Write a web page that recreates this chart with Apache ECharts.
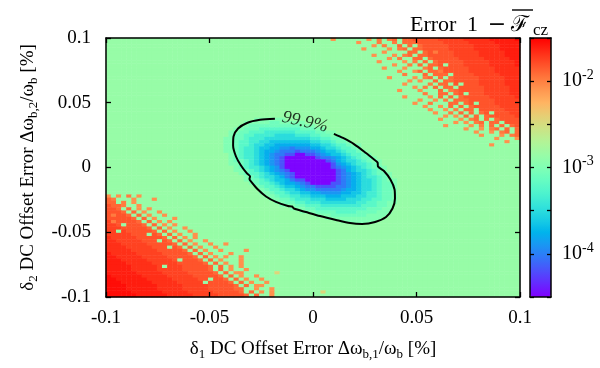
<!DOCTYPE html>
<html>
<head>
<meta charset="utf-8">
<script src="https://cdn.jsdelivr.net/npm/echarts@6/dist/echarts.min.js"></script>
<style>
html,body{margin:0;padding:0;background:#fff;}
#chart{width:600px;height:368px;}
</style>
</head>
<body>
<div id="chart"></div>
<script>
// Scan of the two DC offset errors, 81 x 81 points over [-0.1, 0.1] %.
const FONT = 'Liberation Serif';
const axisTicks = [-0.1, -0.05, 0, 0.05, 0.1];
const scanPoints = 81;
const colorbarRange = [-4.5, -1.5];          // log10 of the error
const colorbarDecades = [-4, -3, -2];

// Cell codes and the log10 error each code stands for.
const levelCodes = ['.', 'a', 'b', 'c', 'd', 'e', 'f', 'g', 'h', 'i', 'j', 'k',
                    'o', 'p', 'y', 'R', 'S', 'T', 'U', 'V', 'W'];
const levelLog10 = [-2.86, -3.00, -3.10, -3.22, -3.36, -3.50, -3.65, -3.78, -3.90, -4.02, -4.18, -4.48,
                    -2.08, -1.98, -2.45, -1.90, -1.82, -1.75, -1.68, -1.61, -1.55];

// Run-length coded rows, top row (delta2 = +0.1) first; "12." = twelve '.' cells.
const errorRows = [
"44.o6.o.p.pR.2R5S5T5U5VW",
"49.o3.p2.p.3R5S5T5U5V",
"52.o.p2.R.R.R5S5T5U4V",
"50.o4.o.pR.2R5S5T5U4V",
"54.o4.2R.RSp3S5T5U3V",
"52.o3.o.pR.2R5S5T5U3V",
"55.o.p2.2R.R5S5T5U2V",
"53.o4.o.p.R.R5S5T5UV",
"56.o2.p.R.2RS.3S5T5UV",
"54.o3.o3.pR.R5S5T5U",
"57.o2.oR.2Rp5S5T5U",
"58.p3.R.3R.4S5T4U",
"55.o4.o.pR.R.R5S5T3U",
"59.o.o2.R.2R5S5T3U",
"58.o4.p.2R.S.3S5T3U",
"60.o.p.R.2R.5S5T2U",
"57.o3.o3.R.pR5S5T2U",
"62.p2.2R.RS.3S5T2U",
"58.o4.o.R.R.R5S5TU",
"61.o2.o.p.3R5S5T",
"60.o2.p3.2R.RS.3S5T",
"62.o2.o.R.R.R5S4T",
"63.o2.o.p.2R.5S3T",
"64.o2.p.R.R.RS.3S2T",
"66.o.o.R.R.R5ST",
"29.6a30.o3.o.pR.R.R4S",
"27.5a2b5a29.o.o.pR.2R.3S",
"26.2a10b3a25.o4.o.p.R.R.RS",
"25.2a3b8c3b2a27.o2.o.pR.R.R",
"24.2a2b3c6d4c2b2a27.o2.o.pR.R",
"24.a2b2c4d4e3d2c2b2a27.o3.o.pR",
"23.2a2bc3d9e2d2c2ba29.o3.o",
"23.2ab2c2d2e8f2e2dc2ba30.o2.",
"23.2ab2cd2e2f7g2f2ed2cb2a25.o5.",
"23.2abc2de2f2g2hi3h2gf2ed2cba31.",
"23.2abc2def2gh3ij3ihg2fed2cba30.",
"24.abc2defgh2i2j2k2jihg2fed2cba29.",
"24.abc2defghij6kj2ihgfedc2ba28.",
"24.a2bcdefghij8kjigf2edcb2a27.",
"24.2abcdefghij9kjhgfe2dcba27.",
"25.abc2defghj9kjihgfedc2ba26.",
"25.2abcdefghij9kjigf2edcba26.",
"26.ab2cdefghij8kjihgfedc2ba25.",
"27.abcd2efgij8kjihgfe2dcba25.",
"27.a2bcde2fgi2j6kjihgf2edcb2a24.",
"28.ab2cdef2ghij4k2jihgf2edc2ba24.",
"29.ab2cde2fgh2i4j2ihgf2edc2ba24.",
"30.ab2cd2efg2h5ih2gf2edc2ba24.",
"30.2ab2cd2e2f2g4h2g2fe2dc2ba24.",
"o.o.p.o24.2ab2c2d2e3f3g3f2e2dc2ba24.",
"Rp3.o3.o22.2a2bc3d3e4f3e2d2c2ba24.",
"2R.p.o27.2a2b2c3d7e2d2c2b2a24.",
"S2Rp2.o27.3a2b3c8d3c2ba25.",
"2SR.R.o.o27.3a2b10c3b2a25.",
"3SR.R.o2.o27.3a4b4c4b3a25.",
"Sp2SR.R.o2.o29.3a7b4a26.",
"5SR.R.o3.o29.11a27.",
"Tp4SR.R.o.o33.7a28.",
"2TS.3SR.R.o.o67.",
"3T5SR.R.o2.o65.",
"2T.T5SR.R.o2.o64.",
"5T3S.SR.R.o2.o63.",
"U5T5SR.R.o.o63.",
"2U5T3S.SR.R.o2.o61.",
"3U5T5SR.R.o2.o2.o57.",
"4U5T3S.SR.R.o2.o59.",
"5U5T5SR.R.o2.o4.o53.",
"V5U5T5SR.R.o3.o56.",
"2V5U5T5SR.R.o.o2.o54.",
"3V5U5TS.3SR.R.o3.o54.",
"4V5U5T5SR.R.o2.o54.",
"5V5UT.3T5SR.R.o.o54.",
"5V5U5T5SR.R.o2.o53.",
"6V5U5T5SR.R.2o6.y47.",
"W6V5U5T5SR.R.o2.o51.",
"2W6V5U5T2S.2SR.R.o2.o50.",
"3W6V5U5T.4SR.R.o2.o49.",
"4W6V5U5T5SR.R.2o50.",
"4W6V5U5T5S2R2.o2.o48.",
"5W6V5U5T5SR.R.o.o9.y38.",
"6W6V5U5T5SR.R2.o48."
];

// 99.9 % fidelity contour (delta1, delta2 in %), open at the label.
const contourD1 = [-0.0184,-0.0256,-0.0319,-0.0362,-0.0384,-0.0386,-0.0372,-0.0348,-0.0319,-0.0304,-0.0307,-0.0295,
  -0.0266,-0.0227,-0.0179,-0.0121,-0.0101,-0.0092,-0.0034,0.0034,0.0111,0.0179,0.0237,0.0300,0.0353,0.0384,
  0.0396,0.0394,0.0374,0.0343,0.0314,0.0312,0.0295,0.0256,0.0198,0.0145,0.0101];
const contourD2 = [0.0376,0.0368,0.0344,0.0301,0.0239,0.0170,0.0085,0.0015,-0.0046,-0.0069,-0.0089,-0.0116,
  -0.0170,-0.0224,-0.0266,-0.0297,-0.0301,-0.0317,-0.0344,-0.0375,-0.0405,-0.0429,-0.0436,-0.0421,-0.0382,-0.0317,
  -0.0239,-0.0170,-0.0093,-0.0027,0.0008,0.0039,0.0062,0.0112,0.0181,0.0228,0.0260];
const contourLabel = { text: '99.9%', d1: -0.0039, d2: 0.0351 };

// Rainbow palette from 10^-4.5 (violet) to 10^-1.5 (red).
const palette = ['#8000ff','#6628fe','#4d4ffc','#3374f8','#1a96f3','#00b4ec','#1acee3','#33e3da','#4df3ce',
  '#66fcc2','#80ffb4','#99fca6','#b3f396','#cce385','#e6ce74','#ffb462','#ff964f','#ff743b','#ff4f28','#ff2814','#ff0000'];

function expandRow(rle) {
  let s = '';
  rle.replace(/(\d*)(\D)/g, (m, n, c) => { s += c.repeat(n ? +n : 1); return m; });
  while (s.length < scanPoints) s += '.';
  return s.slice(0, scanPoints);
}

const cells = [];
errorRows.forEach((rle, r) => {
  const row = expandRow(rle);
  const yi = scanPoints - 1 - r;
  for (let xi = 0; xi < scanPoints; xi++) {
    cells.push([xi, yi, levelLog10[levelCodes.indexOf(row[xi])]]);
  }
});
const categories = Array.from({ length: scanPoints }, (_, k) => k);
const contour = contourD1.map((x, k) => [x, contourD2[k]]);

const black = '#000';
const tickLabel = { fontFamily: FONT, fontSize: 19, color: black };
const richSub = { fontFamily: FONT, fontSize: 13, verticalAlign: 'bottom', lineHeight: 13, color: black };
const richSup = { fontFamily: FONT, fontSize: 14, verticalAlign: 'top', lineHeight: 14, color: black };
const frameLine = { show: true, onZero: false, lineStyle: { color: black, width: 1.5 } };
const innerTick = (len) => ({ show: true, inside: true, length: len, lineStyle: { color: black, width: 1.3 } });

const mainValueX = (pos, labels) => ({
  type: 'value', gridIndex: 0, position: pos, min: axisTicks[0], max: axisTicks[4], interval: 0.05, z: 10,
  axisLine: frameLine, axisTick: innerTick(5), splitLine: { show: false },
  axisLabel: Object.assign({ show: labels, margin: 12, showMinLabel: true, showMaxLabel: true }, tickLabel)
});
const mainValueY = (pos, labels) => ({
  type: 'value', gridIndex: 0, position: pos, min: axisTicks[0], max: axisTicks[4], interval: 0.05, z: 10,
  axisLine: frameLine, axisTick: innerTick(5), splitLine: { show: false },
  axisLabel: Object.assign({ show: labels, margin: 15, showMinLabel: true, showMaxLabel: true }, tickLabel)
});

const xMain = mainValueX('bottom', true);
xMain.name = 'δ{sub|1} DC Offset Error Δω{sub|b,1}/ω{sub|b} [%]';
xMain.nameLocation = 'middle';
xMain.nameGap = 40;
xMain.nameTextStyle = { fontFamily: FONT, fontSize: 19, lineHeight: 24, color: black, rich: { sub: richSub } };

const yMain = mainValueY('left', true);
yMain.name = 'δ{sub|2} DC Offset Error Δω{sub|b,2}/ω{sub|b} [%]';
yMain.nameLocation = 'middle';
yMain.nameGap = 66;
yMain.nameTextStyle = { fontFamily: FONT, fontSize: 19, lineHeight: 24, color: black, rich: { sub: richSub } };

// Colour bar heading: Error 1 − F̄cz
const headingFont = '22px "Liberation Serif"';
const heading = [
  { type: 'text', z: 100, style: { text: 'Error', x: 410, y: 25, font: headingFont, fill: black, verticalAlign: 'middle' } },
  { type: 'text', z: 100, style: { text: '1', x: 467, y: 25, font: headingFont, fill: black, verticalAlign: 'middle' } },
  { type: 'text', z: 100, style: { text: '−', x: 497, y: 25, font: '22px "DejaVu Serif"', fill: black, align: 'center', verticalAlign: 'middle' } },
  { type: 'text', z: 100, style: { text: 'ℱ', x: 511, y: 25, font: '22px "DejaVu Serif"', fill: black, verticalAlign: 'middle' } },
  { type: 'text', z: 100, style: { text: 'cz', x: 533, y: 31, font: '17px "Liberation Serif"', fill: black, verticalAlign: 'middle' } },
  { type: 'line', z: 100, shape: { x1: 512, y1: 10, x2: 533, y2: 10 }, style: { stroke: black, lineWidth: 1.4 } }
];

const chart = echarts.init(document.getElementById('chart'), null, { renderer: 'canvas' });
chart.setOption({
  animation: false,
  backgroundColor: '#fff',
  grid: [
    { left: 106, top: 38, width: 414, height: 259, outerBoundsMode: 'none' },
    { left: 530, top: 38, width: 21, height: 259, outerBoundsMode: 'none' }
  ],
  xAxis: [
    { type: 'category', gridIndex: 0, data: categories, show: false, position: 'bottom' },
    xMain,
    mainValueX('top', false),
    { type: 'value', gridIndex: 1, position: 'bottom', min: 0, max: 1, z: 10, axisLine: frameLine,
      axisTick: { show: false }, axisLabel: { show: false }, splitLine: { show: false } },
    { type: 'value', gridIndex: 1, position: 'top', min: 0, max: 1, z: 10, axisLine: frameLine,
      axisTick: { show: false }, axisLabel: { show: false }, splitLine: { show: false } }
  ],
  yAxis: [
    { type: 'category', gridIndex: 0, data: categories, show: false, position: 'left' },
    yMain,
    mainValueY('right', false),
    { type: 'value', gridIndex: 1, position: 'left', min: colorbarRange[0], max: colorbarRange[1], interval: 0.5, z: 10,
      axisLine: frameLine, axisTick: innerTick(4), axisLabel: { show: false }, splitLine: { show: false } },
    { type: 'value', gridIndex: 1, position: 'right', min: colorbarRange[0], max: colorbarRange[1], interval: 0.5, z: 10,
      axisLine: frameLine, axisTick: innerTick(4), splitLine: { show: false },
      axisLabel: { show: true, margin: 11, fontFamily: FONT, fontSize: 20, color: black, lineHeight: 26,
        showMinLabel: true, showMaxLabel: true,
        formatter: v => colorbarDecades.includes(v) ? '10{sup|' + v + '}' : '',
        rich: { sup: richSup } } }
  ],
  visualMap: {
    type: 'continuous', seriesIndex: 0, min: colorbarRange[0], max: colorbarRange[1],
    left: 530, top: 38, itemWidth: 21, itemHeight: 259, padding: 0,
    text: null, showLabel: false, calculable: false, hoverLink: false,
    inRange: { color: palette }
  },
  series: [
    { type: 'heatmap', xAxisIndex: 0, yAxisIndex: 0, data: cells, progressive: 0, silent: true,
      emphasis: { disabled: true } },
    { type: 'line', xAxisIndex: 1, yAxisIndex: 1, data: contour, showSymbol: false, symbol: 'none',
      smooth: 0.25, silent: true, z: 5, lineStyle: { color: black, width: 2 } },
    { type: 'scatter', xAxisIndex: 1, yAxisIndex: 1, data: [[contourLabel.d1, contourLabel.d2]],
      symbolSize: 0, silent: true, z: 6,
      label: { show: true, position: 'inside', formatter: contourLabel.text, rotate: -13,
        fontFamily: FONT, fontStyle: 'italic', fontSize: 18, color: black } }
  ],
  graphic: heading
});
</script>
</body>
</html>
